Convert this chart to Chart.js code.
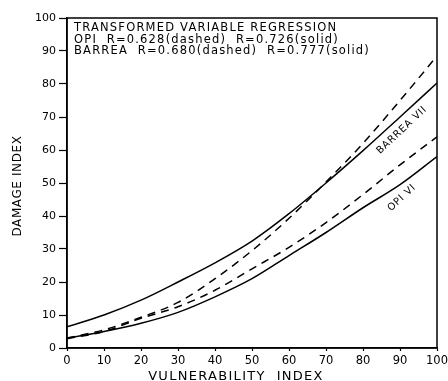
<!DOCTYPE html>
<html>
<head>
<meta charset="utf-8">
<script src="https://cdn.jsdelivr.net/npm/chart.js@4/dist/chart.umd.min.js"></script>
<style>
  html, body { margin: 0; padding: 0; background: #fff; }
  #wrap { width: 448px; height: 381px; }
</style>
</head>
<body>
<div id="wrap"><canvas id="c" width="448" height="381"></canvas></div>
<script>
// ---- data ----
const xValues      = [0, 10, 20, 30, 40, 50, 60, 70, 80, 90, 100];
const barreaSolid  = [6.4, 10, 14.5, 20, 25.8, 32.4, 40.7, 50, 59.8, 70, 80.3];
const barreaDashed = [3, 5.5, 9.3, 13.8, 21, 29.5, 39.3, 50.3, 62, 75, 88.5];
const opiDashed    = [2.8, 5, 9, 12.5, 17.5, 24, 30.5, 38, 46.5, 55.5, 64];
const opiSolid     = [3, 5, 7.5, 10.8, 15.5, 21, 28, 35, 42.5, 49.5, 58];

const seriesNames  = ['BARREA VII (solid)', 'BARREA VII (dashed)', 'OPI VI (dashed)', 'OPI VI (solid)'];
const yTickValues  = [0, 10, 20, 30, 40, 50, 60, 70, 80, 90, 100];
const xTickValues  = [0, 10, 20, 30, 40, 50, 60, 70, 80, 90, 100];

const xTitle = 'VULNERABILITY  INDEX';
const yTitle = 'DAMAGE INDEX';
const noteLines = [
  'TRANSFORMED VARIABLE REGRESSION',
  'OPI  R=0.628(dashed)  R=0.726(solid)',
  'BARREA  R=0.680(dashed)  R=0.777(solid)'
];
// curve labels, anchored in data coordinates
const curveLabels = [
  { text: 'BARREA VII', x: 90.5, y: 66 },
  { text: 'OPI VI',     x: 90.5, y: 45.5 }
];

const FONT = '"DejaVu Sans", sans-serif';

function pts(ys) { return xValues.map((x, i) => ({ x: x, y: ys[i] })); }

const ds = (label, ys, dashed) => ({
  label: label,
  data: pts(ys),
  borderColor: '#000',
  borderWidth: 1.5,
  borderDash: dashed ? [8, 6] : [],
  pointRadius: 0,
  fill: false,
  cubicInterpolationMode: 'monotone'
});

const textPlugin = {
  id: 'texts',
  afterDraw(chart) {
    const ctx = chart.ctx;
    const a = chart.chartArea;
    const xs = chart.scales.x, ys = chart.scales.y;
    ctx.save();
    // frame (top / right sides)
    ctx.strokeStyle = '#000';
    ctx.lineWidth = 1.5;
    ctx.strokeRect(a.left, a.top, a.right - a.left, a.bottom - a.top);

    ctx.fillStyle = '#000';
    // annotation block
    ctx.font = '11.5px ' + FONT;
    ctx.letterSpacing = '1.2px';
    ctx.textAlign = 'left';
    ctx.textBaseline = 'alphabetic';
    const baselines = [30.5, 42.5, 53.5];
    noteLines.forEach((t, i) => ctx.fillText(t, a.left + 7, baselines[i]));

    // x axis title
    ctx.font = '13px ' + FONT;
    ctx.letterSpacing = '1.3px';
    ctx.textAlign = 'center';
    ctx.textBaseline = 'middle';
    ctx.fillText(xTitle, (a.left + a.right) / 2 - 16, 376.5);

    // y axis title
    ctx.save();
    ctx.translate(18, 186);
    ctx.rotate(-Math.PI / 2);
    ctx.font = '12px ' + FONT;
    ctx.letterSpacing = '0.6px';
    ctx.fillText(yTitle, 0, 0);
    ctx.restore();

    // curve labels
    ctx.font = '10px ' + FONT;
    ctx.letterSpacing = '0.8px';
    curveLabels.forEach(l => {
      ctx.save();
      ctx.translate(xs.getPixelForValue(l.x), ys.getPixelForValue(l.y));
      ctx.rotate(-43 * Math.PI / 180);
      ctx.fillText(l.text, 0, 0);
      ctx.restore();
    });
    ctx.restore();
  }
};

new Chart(document.getElementById('c'), {
  type: 'line',
  data: {
    datasets: [
      ds(seriesNames[0], barreaSolid, false),
      ds(seriesNames[1], barreaDashed, true),
      ds(seriesNames[2], opiDashed, true),
      ds(seriesNames[3], opiSolid, false)
    ]
  },
  options: {
    responsive: false,
    animation: false,
    devicePixelRatio: 1,
    layout: { padding: { top: 18, right: 11, left: 0, bottom: 0 } },
    plugins: { legend: { display: false }, tooltip: { enabled: false } },
    scales: {
      x: {
        type: 'linear',
        min: 0, max: 100,
        afterBuildTicks(s) { s.ticks = xTickValues.map(v => ({ value: v })); },
        afterFit(s) { s.height = 33; s.paddingLeft = 0; s.paddingRight = 0; },
        grid: { drawOnChartArea: false, drawTicks: true, tickLength: 3, color: '#000', tickWidth: 1.2 },
        border: { display: true, color: '#000', width: 1.5 },
        ticks: { color: '#000', font: { family: FONT, size: 11.5 }, padding: 3, maxRotation: 0, autoSkip: false }
      },
      y: {
        type: 'linear',
        min: 0, max: 100,
        afterBuildTicks(s) { s.ticks = yTickValues.map(v => ({ value: v })); },
        afterFit(s) { s.width = 67; s.paddingTop = 0; s.paddingBottom = 0; },
        grid: { drawOnChartArea: false, drawTicks: true, tickLength: 8, color: '#000', tickWidth: 1.2 },
        border: { display: true, color: '#000', width: 1.5 },
        ticks: { color: '#000', font: { family: FONT, size: 11 }, padding: 3, autoSkip: false }
      }
    }
  },
  plugins: [textPlugin]
});
</script>
</body>
</html>
